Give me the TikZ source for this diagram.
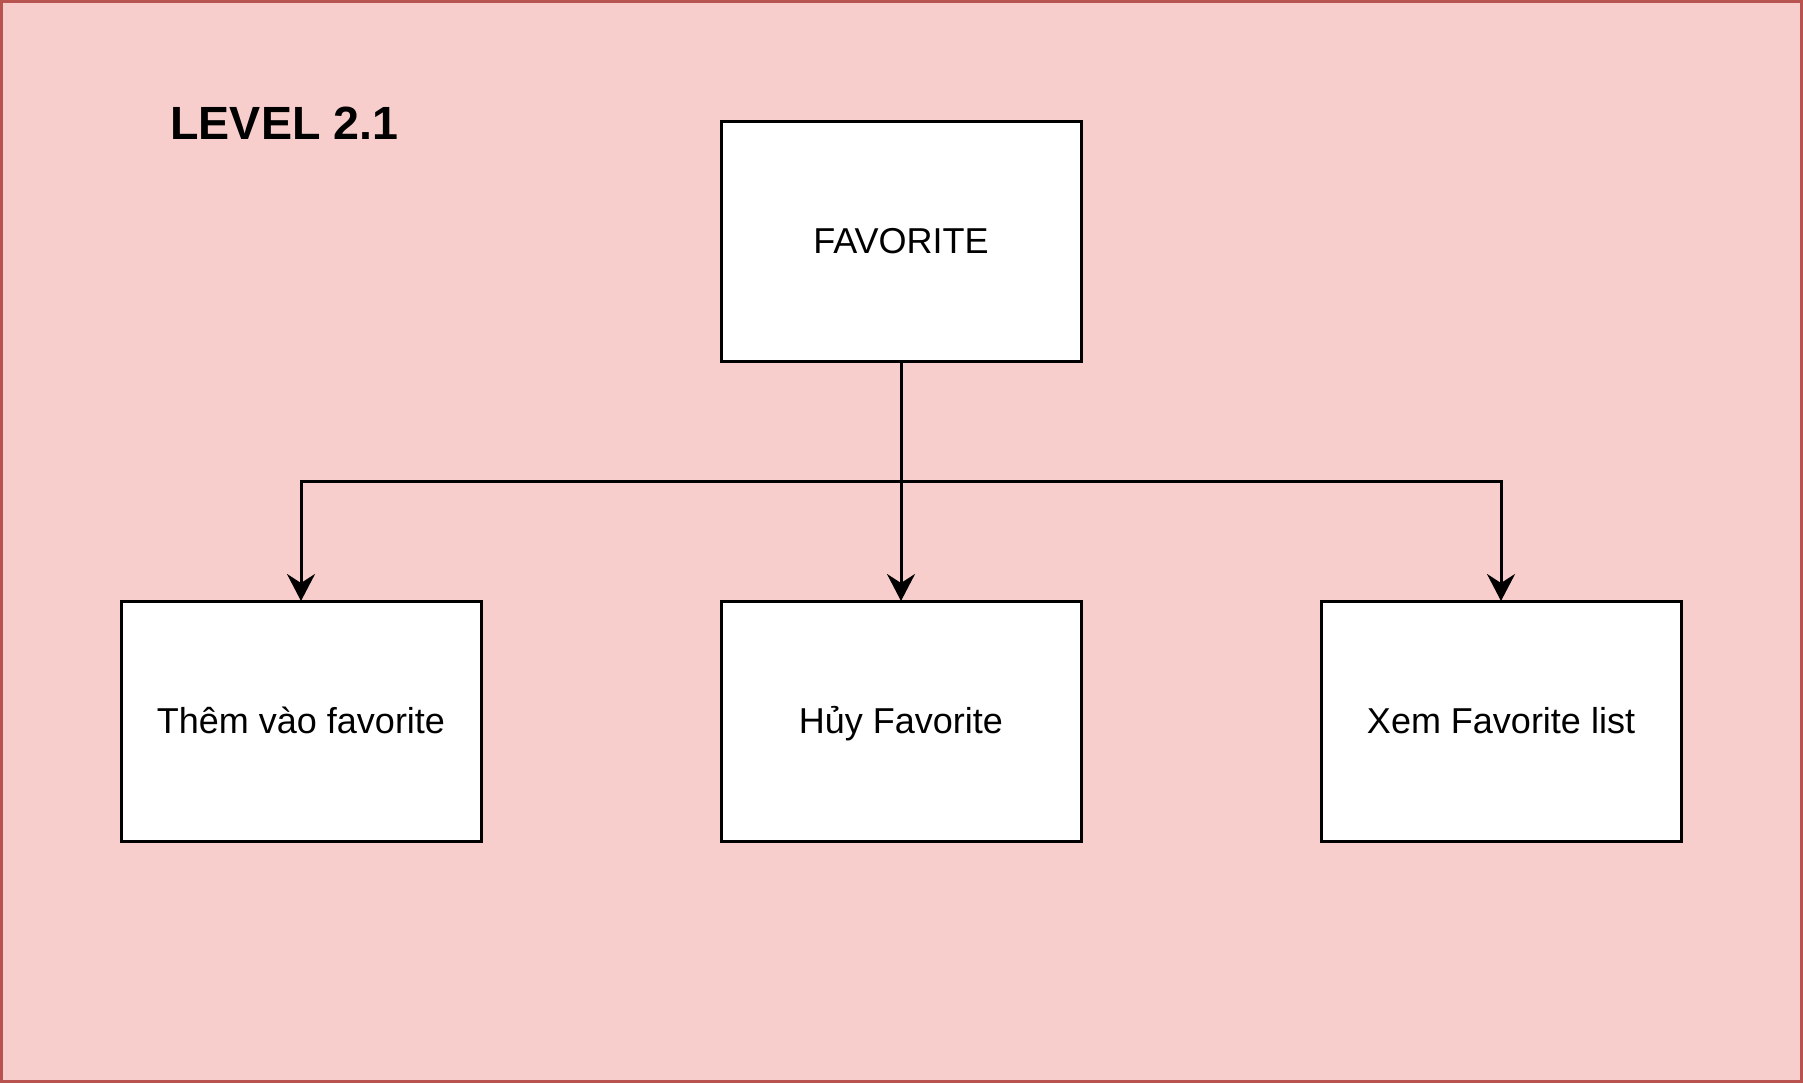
\documentclass[tikz,border=0pt]{standalone}
\usepackage{fontspec}
\setmainfont{Liberation Sans}
\usetikzlibrary{arrows.meta}
\definecolor{bgfill}{HTML}{F8CECC}
\definecolor{bgline}{HTML}{B85450}
\tikzset{
  box/.style={draw=black, fill=white, line width=1.5pt, minimum width=180pt, minimum height=120pt, inner sep=0pt, outer sep=0pt, text height=12.9pt, text depth=0pt, font=\fontsize{18pt}{21pt}\selectfont},
  conn/.style={draw=black, line width=1.5pt, -{Stealth[width=14pt, length=13.5pt, inset=4.5pt]}},
}
\begin{document}
\begin{tikzpicture}[x=0.5pt, y=-0.5pt]
\useasboundingbox (0,0) rectangle (1803,1083);
\draw[fill=bgfill, draw=bgline, line width=1.5pt] (1.5,1.5) rectangle (1801.5,1081.5);
\node[anchor=base west, inner sep=0pt, font=\fontsize{23.3pt}{28pt}\selectfont\bfseries] (title) at (170,139) {LEVEL 2.1};
\node[box] (fav) at (901,241) {FAVORITE};
\node[box] (add) at (301,721) {Thêm vào favorite};
\node[box] (del) at (901,721) {Hủy Favorite};
\node[box] (view) at (1501,721) {Xem Favorite list};
\coordinate (split) at (901,481);
\draw[conn] (fav.south) -- (split) -| (add.north);
\draw[conn] (split) -| (view.north);
\draw[conn] (split) -- (del.north);
\end{tikzpicture}
\end{document}
